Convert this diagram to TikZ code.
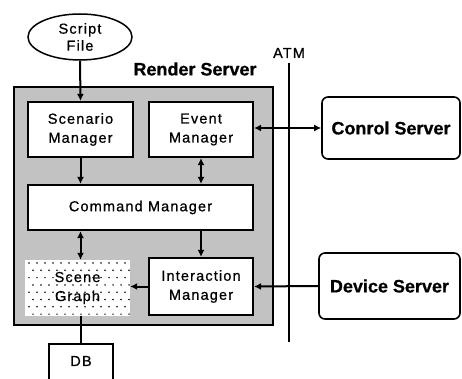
\documentclass[tikz,border=0pt]{standalone}
\usepackage{fontspec}
\setmainfont{Liberation Sans}
\newfontfamily\spaced[LetterSpace=8,FakeBold=0.7]{Liberation Sans}
\newfontfamily\heavy[FakeBold=0.6]{Liberation Sans Bold}
\usetikzlibrary{arrows.meta,shapes.geometric}
\tikzset{
  lbl/.style={font=\spaced\fontsize{14.5}{17}\selectfont, align=center},
  big/.style={font=\heavy\fontsize{18}{20}\selectfont},
  unit/.style={draw=black, line width=2.2pt, fill=white, inner sep=0pt, lbl},
  server/.style={draw=black, line width=1.6pt, rounded corners=6pt, fill=white, inner sep=0pt, big},
  link/.style={line width=2pt, -{Latex[length=7pt,width=7pt]}},
  link2/.style={line width=2pt, {Latex[length=7pt,width=7pt]}-{Latex[length=7pt,width=7pt]}},
}
\begin{document}
\begin{tikzpicture}[x=1pt, y=-1pt]
\useasboundingbox (0,0) rectangle (462,379);
\clip (0,0) rectangle (462,379);
\fill[white] (0,0) rectangle (462,379);

% render server frame
\draw[line width=2pt, fill=black!24] (14,87) rectangle (273,325);
\node[big] (rs) at (195,69) {Render Server};

% script file
\node[draw, line width=1.5pt, ellipse, minimum width=104pt, minimum height=46pt, inner sep=0pt, lbl, fill=white] (sf) at (80,37) {Script\\File};

% managers
\node[unit, minimum width=105pt, minimum height=55pt] (scen) at (80.5,129.5) {Scenario\\[2pt]Manager};
\node[unit, minimum width=104pt, minimum height=55pt] (event) at (201,129.5) {Event\\[2pt]Manager};
\node[unit, minimum width=225pt, minimum height=45pt] (cmd) at (140.5,207.5) {Command Manager};
\node[unit, minimum width=104pt, minimum height=57pt] (inter) at (201,286.5) {Interaction\\[2pt]Manager};

% scene graph: dotted white area
\fill[white] (25,260) rectangle (130,316);
\foreach \r in {0,...,7} {
  \foreach \c in {0,...,12} {
    \pgfmathsetmacro{\xx}{29 + 8*\c + 4*mod(\r,2)}
    \pgfmathsetmacro{\yy}{263 + 7.3*\r}
    \fill[black] (\xx,\yy) circle (0.85pt);
  }
}
\node[lbl, inner sep=1pt, minimum width=105pt, minimum height=56pt] (scene) at (77.5,288) {Scene\\[2pt]Graph};

% database
\node[draw, line width=2pt, fill=white, minimum width=64pt, minimum height=56pt, anchor=north, inner sep=0pt] (db) at (81,343) {};
\node[lbl] (dbl) at (81,361) {DB};

% network
\coordinate (atmtop) at (289,63);
\coordinate (atmbot) at (289,342);
\draw[line width=2.6pt] (atmtop) -- (atmbot);
\node[lbl] (atm) at (289,53) {ATM};

% external servers
\node[server, minimum width=138pt, minimum height=62pt] (ctrl) at (391,128) {Conrol Server};
\node[server, minimum width=141pt, minimum height=66pt] (dev) at (389.5,286) {Device Server};

% connectors
\draw[link] (sf.south) -- (scen.north);
\draw[link] (scen.south) -- (scen.south |- cmd.north);
\draw[link2] (event.south) -- (event.south |- cmd.north);
\draw[link2] (cmd.south -| scen.south) -- (scene.north -| scen.south);
\draw[link] (cmd.south -| event.south) -- (inter.north);
\draw[link] (inter.west) -- (scene.east |- inter.west);
\draw[link2] (ctrl.west) -- (ctrl.west -| event.east);
\draw[link] (dev.west) -- (inter.east);
\draw[line width=2pt] (db.north) -- (db.north |- scene.south);
\end{tikzpicture}
\end{document}
